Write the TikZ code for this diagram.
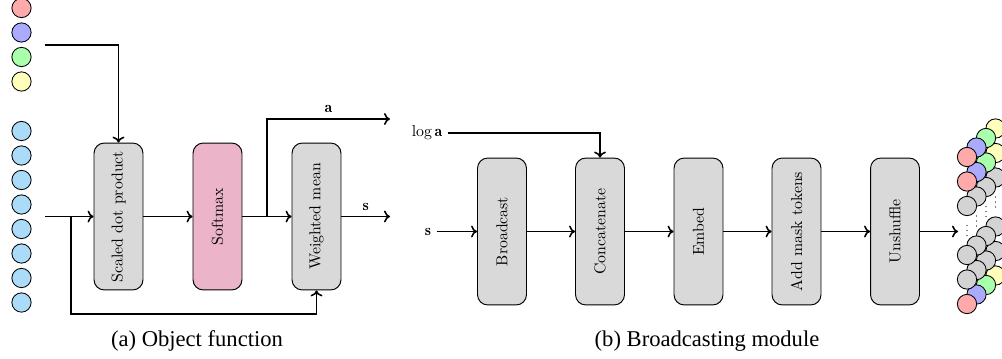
\documentclass[tikz,border=0pt]{standalone}
\usepackage{fontspec}
\usepackage{graphicx}
\newfontfamily\capfont{Liberation Serif}
\usetikzlibrary{arrows.meta}

\definecolor{tokred}{HTML}{FFAAAA}
\definecolor{tokblue}{HTML}{AAAAFF}
\definecolor{tokgreen}{HTML}{AAFFAA}
\definecolor{tokyellow}{HTML}{FFFFBB}
\definecolor{tokcyan}{HTML}{AADCFA}
\definecolor{tokgray}{HTML}{D3D3D3}
\definecolor{blkgray}{HTML}{D9D9D9}
\definecolor{softpink}{HTML}{EBB4C8}

\begin{document}
\begin{tikzpicture}[x=0.633pt,y=-0.633pt,
  blk/.style={draw, rounded corners=6.5pt, fill=blkgray, minimum width=31pt,
    minimum height=93pt, inner sep=0pt, line width=0.6pt,
    font=\fontsize{10}{12}\selectfont},
  tok/.style={circle, draw, line width=0.55pt, minimum size=12.2pt, inner sep=0pt},
  conn/.style={line width=1pt, -{To[length=3.8pt,width=7.5pt]}},
  lbl/.style={font=\fontsize{10}{12}\selectfont},
  captext/.style={anchor=base, font=\capfont\fontsize{14.3}{17}\selectfont}]

\useasboundingbox (0,0) rectangle (1002,358);

% ---------- (a) Object function ----------
% slot tokens and input tokens
\foreach \k/\col in {0/tokred,1/tokblue,2/tokgreen,3/tokyellow}
  \node[tok, fill=\col] (slot\k) at (21.5,{8+24.5*\k}) {};
\foreach \k in {5,...,12}
  \node[tok, fill=tokcyan] (inp\k) at (21.5,{8.5+24.5*\k}) {};

\node[blk] (sdp) at (118.5,216.5) {\rotatebox{90}{Scaled dot product}};
\node[blk, fill=softpink] (smx) at (217.5,216.5) {\rotatebox{90}{Softmax}};
\node[blk] (wm) at (316.5,216.5) {\rotatebox{90}{Weighted mean}};

\coordinate (qin) at (45,45);
\coordinate (xin) at (45,216.5);
\coordinate (xsplit) at (71,216.5);
\coordinate (xloop) at (71,314);
\coordinate (asplit) at (267,216.5);
\coordinate (aout) at (390,119);
\coordinate (sout) at (390,216.5);

\draw[conn] (qin) -| (sdp.north);
\draw[conn] (xin) -- (sdp.west);
\draw[conn] (xsplit) -- (xloop) -| (wm.south);
\draw[conn] (sdp.east) -- (smx.west);
\draw[conn] (smx.east) -- (wm.west);
\draw[conn] (asplit) |- node[pos=0.75, above, lbl] {$\mathbf{a}$} (aout);
\draw[conn] (wm.east) -- node[above, lbl] {$\mathbf{s}$} (sout);

\node[captext] (capa) at (197,346.5) {(a) Object function};

% ---------- (b) Broadcasting module ----------
\node[lbl] (loga) at (427,133) {$\log\mathbf{a}$};
\node[lbl] (sin) at (428,231.5) {$\mathbf{s}$};

\node[blk] (bc) at (502,231.5) {\rotatebox{90}{Broadcast}};
\node[blk] (cc) at (600,231.5) {\rotatebox{90}{Concatenate}};
\node[blk] (emb) at (698.5,231.5) {\rotatebox{90}{Embed}};
\node[blk] (amt) at (796.5,231.5) {\rotatebox{90}{Add mask tokens}};
\node[blk] (uns) at (895,231.5) {\rotatebox{90}{Unshuffle}};
\coordinate (stackin) at (958,231.5);

\draw[conn] (loga.east) -| (cc.north);
\draw[conn] (sin.east) -- (bc.west);
\draw[conn] (bc.east) -- (cc.west);
\draw[conn] (cc.east) -- (emb.west);
\draw[conn] (emb.east) -- (amt.west);
\draw[conn] (amt.east) -- (uns.west);
\draw[conn] (uns.east) -- (stackin);

% output token grid, one sheet per channel, back to front
\foreach \c/\col in {3/tokyellow,2/tokgreen,1/tokblue,0/tokred} {
  \foreach \k in {0,1,6}
    \node[tok, fill=\col] (out\c-\k) at ({967+9.5*\c},{157+24.5*\k-9.5*\c}) {};
  \foreach \k in {2,4,5}
    \node[tok, fill=tokgray] (out\c-\k) at ({967+9.5*\c},{157+24.5*\k-9.5*\c}) {};
  \foreach \d in {-5,0,5}
    \fill ({967+9.5*\c},{230.5+\d-9.5*\c}) circle[radius=0.45pt];
}

\node[captext] (capb) at (707,346.5) {(b) Broadcasting module};
\end{tikzpicture}
\end{document}
